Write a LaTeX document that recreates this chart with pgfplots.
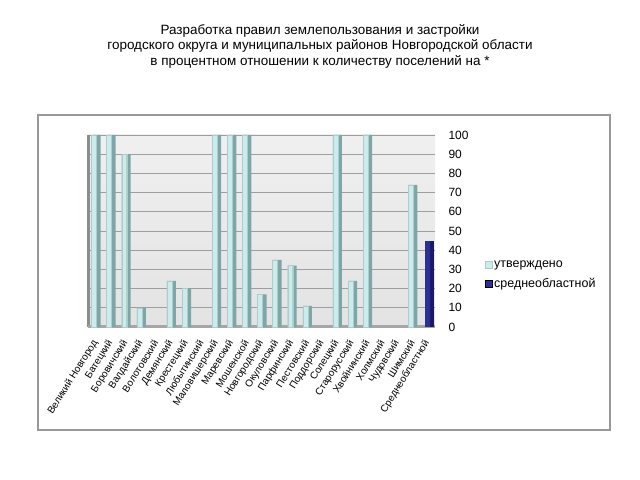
\documentclass[border=0pt]{standalone}
\usepackage{fontspec}
\setmainfont{Liberation Sans}
\usepackage{pgfplots}
\pgfplotsset{compat=1.18}
\definecolor{cyanlt}{HTML}{C8EDEC}
\definecolor{cyandk}{HTML}{7EA6A6}
\definecolor{navy}{HTML}{2E2E96}
\definecolor{navydk}{HTML}{1A1A66}
\begin{document}
\begin{tikzpicture}
\useasboundingbox (0bp,0bp) rectangle (640bp,480bp);
\node[align=center, font=\fontsize{13.5}{15.5}\selectfont] at (320bp,434bp) {Разработка правил землепользования и застройки\\городского округа и муниципальных районов Новгородской области\\в процентном отношении к количеству поселений на *};
\draw[black!40, line width=1.5bp] (38bp,50bp) rectangle (610bp,365bp);
\begin{axis}[
  at={(88bp,153bp)}, anchor=south west,
  scale only axis, width=347bp, height=192bp,
  xmin=0.5, xmax=23.5, ymin=0, ymax=100,
  axis y line*=right, axis x line*=bottom,
  axis line style={draw=none},
  axis background/.style={top color=black!6, bottom color=black!11},
  ytick={0,10,...,100},
  ymajorgrids, grid style={black!38, line width=0.8bp},
  major tick length=0pt,
  /pgf/number format/assume math mode=true,
  yticklabel style={font=\fontsize{12}{14}\selectfont, xshift=10bp, anchor=west},
  xtick={1,...,23},
  xticklabels={Великий Новгород,Батецкий,Боровичский,Валдайский,Волотовский,Демянский,Крестецкий,Любытинский,Маловишерский,Маревский,Мошенской,Новгородский,Окуловский,Парфинский,Пестовский,Поддорский,Солецкий,Старорусский,Хвойнинский,Холмский,Чудовский,Шимский,Среднеобластной},
  xticklabel shift=14bp,
  xticklabel style={font=\fontsize{10}{12}\selectfont, rotate=58, anchor=east, inner sep=0bp},
  clip=false,
  legend style={at={(1.143,0.355)}, anchor=north west, draw=none, fill=none, font=\fontsize{12.5}{14}\selectfont, row sep=5bp, legend cell align=left, inner sep=0bp},
  legend image code/.code={\fill[#1] (0bp,-3.5bp) rectangle (7bp,3.5bp);},
]
% 3D walls
\draw[black!45, line width=3bp] (rel axis cs:0,0) -- (rel axis cs:0,1);
\draw[black!35, line width=3bp] (rel axis cs:0,0) -- (rel axis cs:1,0);
% утверждено (Волотовский, Любытинский, Поддорский, Холмский, Чудовский = 0)
\addplot[ybar, bar width=9bp, bar shift=0.5bp, fill=cyandk, draw=none, forget plot] coordinates {
(1,100)(2,100)(3,90)(4,10)(6,24)(7,20)(9,100)(10,100)(11,100)(12,17)(13,35)(14,32)(15,11)(17,100)(18,24)(19,100)(22,74)};
\addplot[ybar, bar width=5bp, bar shift=-1.5bp, fill=cyanlt, draw=cyandk!60, line width=0.3bp, forget plot] coordinates {
(1,100)(2,100)(3,90)(4,10)(6,24)(7,20)(9,100)(10,100)(11,100)(12,17)(13,35)(14,32)(15,11)(17,100)(18,24)(19,100)(22,74)};
\addplot[ybar, bar width=9bp, bar shift=2bp, fill=navydk, draw=none, forget plot] coordinates {(23,45)};
\addplot[ybar, bar width=5bp, bar shift=0bp, fill=navy, draw=none, forget plot] coordinates {(23,45)};
\addlegendimage{fill=cyanlt, draw=cyandk!60}
\addlegendentry{утверждено}
\addlegendimage{fill=navy}
\addlegendentry{среднеобластной}
\end{axis}
\end{tikzpicture}
\end{document}
